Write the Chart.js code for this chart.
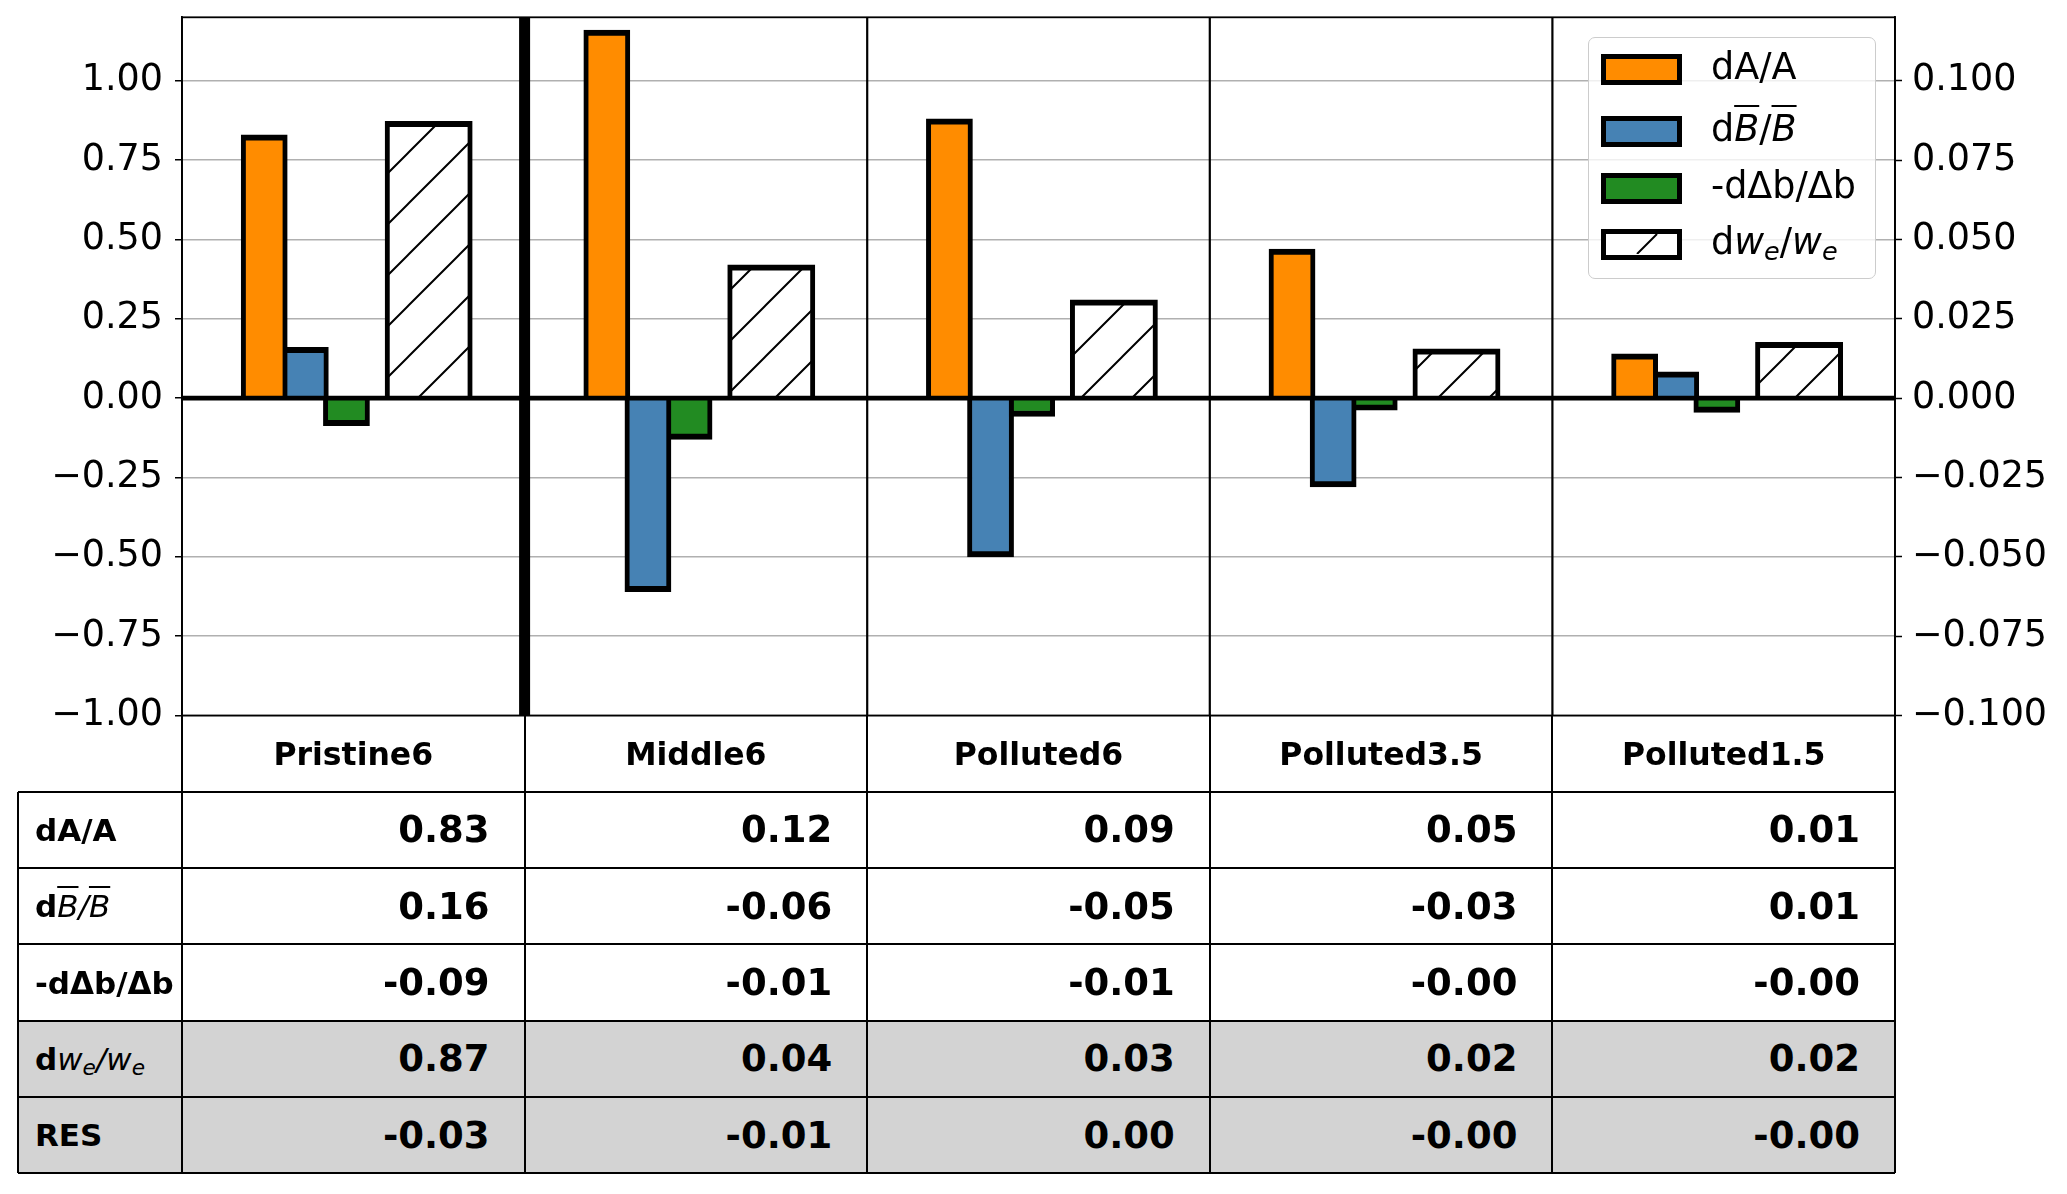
<!DOCTYPE html>
<html>
<head>
<meta charset="utf-8">
<script src="https://cdn.jsdelivr.net/npm/chart.js@4.4.1/dist/chart.umd.min.js"></script>
<style>
    html, body { margin: 0; padding: 0; background: #fff; }
    body { width: 2067px; height: 1194px; position: relative; overflow: hidden; font-family: 'DejaVu Sans', sans-serif; color: #000; }
    #wrap { position: absolute; left: 0; top: 0; width: 2067px; height: 1194px; }
    .cell { position: absolute; box-sizing: border-box; display: flex; align-items: center; white-space: nowrap; }
    .hline, .vline { position: absolute; background: #000; }
    .ov { text-decoration: overline; text-decoration-thickness: 1.5px; }
    .m { font-style: italic; font-weight: normal; }
    sub { font-size: 0.7em; vertical-align: -0.25em; line-height: 0; }
    #legend { position: absolute; left: 1588px; top: 37px; width: 288px; height: 242px; box-sizing: border-box;
              border: 1.5px solid #cccccc; border-radius: 7px; background: rgba(255,255,255,0.8); }
    .lg-sw { position: absolute; left: 12px; width: 81px; height: 31px; box-sizing: border-box; border: 5.5px solid #000; }
    .lg-tx { position: absolute; left: 122px; font-size: 36.5px; line-height: 40px; white-space: nowrap; }
</style>
</head>
<body>
<div id="wrap"><canvas id="mainChart"></canvas></div>
<div id="table"></div>
<div id="legend"></div>
<script>
const groups = ['Pristine6', 'Middle6', 'Polluted6', 'Polluted3.5', 'Polluted1.5'];
// first group is read on the left axis, the rest on the right axis
const dA = [0.83, 0.116, 0.088, 0.047, 0.014];
const dB = [0.16, -0.061, -0.050, -0.028, 0.0083];
const dDb = [-0.087, -0.013, -0.0058, -0.0038, -0.0045];
const dWe = [0.872, 0.042, 0.031, 0.0155, 0.0176];
const res = [-0.03, -0.01, 0.0, -0.001, -0.001];
const leftTicks = [-1, -0.75, -0.5, -0.25, 0, 0.25, 0.5, 0.75, 1];
const rightTicks = [-0.1, -0.075, -0.05, -0.025, 0, 0.025, 0.05, 0.075, 0.1];

const colW = 1713 / groups.length;

function hatchPattern() {
    const T = 51;
    const c = document.createElement('canvas');
    c.width = T; c.height = T;
    const g = c.getContext('2d');
    g.fillStyle = '#fff';
    g.fillRect(0, 0, T, T);
    g.strokeStyle = '#000';
    g.lineWidth = 2;
    g.beginPath();
    g.moveTo(-T, 2 * T); g.lineTo(2 * T, -T);
    g.moveTo(-T, T); g.lineTo(T, -T);
    g.moveTo(0, 2 * T); g.lineTo(2 * T, 0);
    g.stroke();
    return g.createPattern(c, 'repeat');
}

const series = [
    { vals: dA, fill: '#ff8c00', off: -0.26, w: 0.12,
      legend: 'dA/A', row: '<b>dA/A</b>' },
    { vals: dB, fill: '#4682b4', off: -0.14, w: 0.12,
      legend: 'd<span class="m ov">B</span>/<span class="m ov">B</span>',
      row: '<b>d</b><span class="m ov">B</span><span class="m">/</span><span class="m ov">B</span>' },
    { vals: dDb, fill: '#228b22', off: -0.02, w: 0.12,
      legend: '-dΔb/Δb', row: '<b>-dΔb/Δb</b>' },
    { vals: dWe, fill: hatchPattern(), off: 0.22, w: 0.24, hatch: true,
      legend: 'd<span class="m">w<sub>e</sub></span>/<span class="m">w<sub>e</sub></span>',
      row: '<b>d</b><span class="m">w<sub>e</sub>/w<sub>e</sub></span>' }
];

const datasets = [];
series.forEach(s => {
    const common = {
        backgroundColor: s.fill,
        borderColor: '#000',
        borderWidth: { left: 5, right: 5, top: 6, bottom: 6 },
        borderSkipped: 'start',
        grouped: false,
        barThickness: s.w * colW + 5
    };
    datasets.push({ ...common, yAxisID: 'y', data: [{ x: 0 + s.off, y: s.vals[0] }] });
    datasets.push({ ...common, yAxisID: 'y2', data: s.vals.slice(1).map((v, i) => ({ x: i + 1 + s.off, y: v })) });
});

const fmt = (v, d) => (v < 0 ? '\u2212' : '') + Math.abs(v).toFixed(d);
const tickFont = { family: "'DejaVu Sans', sans-serif", size: 36.5 };

const framePlugin = {
    id: 'frame',
    afterDatasetsDraw(chart) {
        const { ctx, chartArea: a, scales: { x, y } } = chart;
        ctx.save();
        ctx.strokeStyle = '#000';
        // zero line over the bar bases
        const y0 = y.getPixelForValue(0);
        ctx.lineWidth = 4.8;
        ctx.beginPath();
        ctx.moveTo(a.left, y0);
        ctx.lineTo(a.right, y0);
        ctx.stroke();
        for (let i = 0; i < groups.length - 1; i++) {
            const px = x.getPixelForValue(i + 0.5);
            ctx.lineWidth = i === 0 ? 11 : 2.2;
            ctx.beginPath();
            ctx.moveTo(px, a.top);
            ctx.lineTo(px, a.bottom);
            ctx.stroke();
        }
        ctx.lineWidth = 1.8;
        ctx.strokeRect(a.left, a.top, a.right - a.left, a.bottom - a.top);
        ctx.restore();
    }
};

Chart.defaults.font.family = "'DejaVu Sans', sans-serif";
Chart.defaults.color = '#000';

const chart = new Chart(document.getElementById('mainChart'), {
    type: 'bar',
    data: { datasets },
    options: {
        animation: false,
        responsive: true,
        maintainAspectRatio: false,
        layout: { padding: { left: 0, right: 0, top: 17.3, bottom: 1194 - 715.5 } },
        plugins: { legend: { display: false }, tooltip: { enabled: false } },
        scales: {
            x: { type: 'linear', min: -0.5, max: 4.5, offset: false, display: false },
            y: {
                position: 'left', min: -1, max: 1.2,
                afterBuildTicks: s => { s.ticks = leftTicks.map(v => ({ value: v })); },
                afterFit: s => { s.width = 182; s.paddingTop = 0; s.paddingBottom = 0; },
                ticks: { font: tickFont, padding: 12, callback: v => fmt(v, 2) },
                grid: {
                    color: '#b0b0b0', lineWidth: 1.5,
                    tickColor: '#000', tickLength: 7, tickWidth: 1.5
                },
                border: { display: true, color: '#000', width: 1.8 }
            },
            y2: {
                position: 'right', min: -0.1, max: 0.12,
                afterBuildTicks: s => { s.ticks = rightTicks.map(v => ({ value: v })); },
                afterFit: s => { s.width = 172; s.paddingTop = 0; s.paddingBottom = 0; },
                ticks: { font: tickFont, padding: 10, callback: v => fmt(v, 3) },
                grid: { drawOnChartArea: false, tickColor: '#000', tickLength: 7, tickWidth: 1.5 },
                border: { display: true, color: '#000', width: 1.8 }
            }
        }
    },
    plugins: [framePlugin]
});

// table under the plot, columns follow the x scale
function buildTable() {
    const a = chart.chartArea;
    const x = chart.scales.x;
    const tbl = document.getElementById('table');
    const labelLeft = 18;
    const rowH = 76.33;
    const top0 = a.bottom;
    const rows = [
        { html: series[0].row, vals: dA },
        { html: series[1].row, vals: dB },
        { html: series[2].row, vals: dDb },
        { html: series[3].row, vals: dWe, grey: true },
        { html: '<b>RES</b>', vals: res, grey: true }
    ];
    let out = '';
    groups.forEach((g, i) => {
        const l = x.getPixelForValue(i - 0.5), r = x.getPixelForValue(i + 0.5);
        out += `<div class="cell" style="left:${l}px;top:${top0}px;width:${r - l}px;height:${rowH}px;justify-content:center;font-weight:bold;font-size:31.5px;">${g}</div>`;
    });
    rows.forEach((row, ri) => {
        const t = top0 + (ri + 1) * rowH;
        const bg = row.grey ? 'background:#d3d3d3;' : '';
        out += `<div class="cell" style="left:${labelLeft}px;top:${t}px;width:${a.left - labelLeft}px;height:${rowH}px;${bg}padding-left:17px;font-size:31px;">${row.html}</div>`;
        row.vals.forEach((v, i) => {
            const l = x.getPixelForValue(i - 0.5), r = x.getPixelForValue(i + 0.5);
            out += `<div class="cell" style="left:${l}px;top:${t}px;width:${r - l}px;height:${rowH}px;${bg}justify-content:flex-end;padding-right:35px;font-weight:bold;font-size:37px;">${v.toFixed(2)}</div>`;
        });
    });
    const lw = 2;
    for (let k = 1; k <= rows.length + 1; k++) {
        const y = top0 + k * rowH;
        out += `<div class="hline" style="left:${labelLeft}px;top:${y - lw / 2}px;width:${a.right - labelLeft}px;height:${lw}px;"></div>`;
    }
    const bottom = top0 + (rows.length + 1) * rowH;
    out += `<div class="vline" style="left:${labelLeft - lw / 2}px;top:${top0 + rowH}px;width:${lw}px;height:${rowH * rows.length}px;"></div>`;
    for (let i = 0; i <= groups.length; i++) {
        const px = x.getPixelForValue(i - 0.5);
        out += `<div class="vline" style="left:${px - lw / 2}px;top:${top0}px;width:${lw}px;height:${bottom - top0}px;"></div>`;
    }
    tbl.innerHTML = out;
}

function buildLegend() {
    const box = document.getElementById('legend');
    const centers = [31, 93, 150, 206];
    box.innerHTML = series.map((s, i) => {
        const sw = s.hatch
            ? `<div class="lg-sw" style="top:${centers[i] - 15.5}px;background:#fff;"><svg width="70" height="20" style="display:block"><line x1="31" y1="20" x2="51" y2="0" stroke="#000" stroke-width="2"/></svg></div>`
            : `<div class="lg-sw" style="top:${centers[i] - 15.5}px;background:${s.fill};"></div>`;
        return sw + `<div class="lg-tx" style="top:${centers[i] - 22}px;">${s.legend}</div>`;
    }).join('');
}

buildTable();
buildLegend();
</script>
</body>
</html>
